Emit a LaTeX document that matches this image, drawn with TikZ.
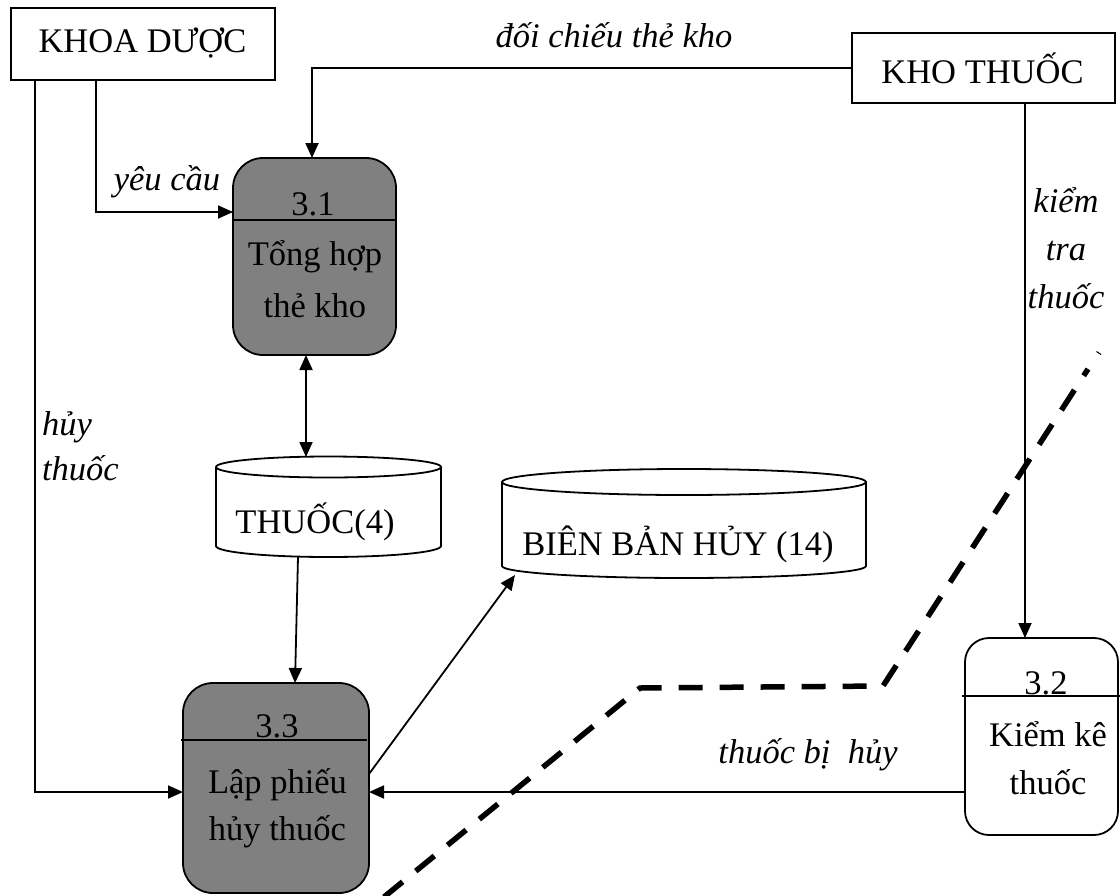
\documentclass[tikz,border=0pt]{standalone}
\usepackage{fontspec}
\setmainfont{Liberation Serif}
\usetikzlibrary{arrows.meta,calc}
\definecolor{procgray}{RGB}{128,128,128}
\begin{document}
\begin{tikzpicture}[x=1pt,y=-1pt,
  every node/.style={inner sep=0pt, outer sep=0pt},
  txt/.style={anchor=base, font=\fontsize{34.5}{48}\selectfont},
  lbl/.style={anchor=base, font=\fontsize{34.5}{48}\selectfont\itshape},
  entity/.style={draw, line width=1.6pt, rectangle},
  proc/.style={draw, line width=1.8pt, rectangle},
  divider/.style={line width=1.8pt},
  store/.style={line width=1.8pt},
  conn/.style={line width=1.8pt, -{Triangle[length=15pt,width=13pt]}},
  bothconn/.style={line width=1.8pt, {Triangle[length=15pt,width=13pt]}-{Triangle[length=15pt,width=13pt]}},
  boundary/.style={line width=5.5pt, dash pattern=on 24pt off 17pt}
]
\useasboundingbox (0,0) rectangle (1120,895);

% external entities
\node[entity, minimum width=264pt, minimum height=72pt] (khoa) at (143,44) {};
\node[txt] (khoaT) at (142.5,52) {KHOA DƯỢC};
\node[entity, minimum width=263pt, minimum height=70pt] (kho) at (983.5,68) {};
\node[txt] (khoT) at (982.5,83) {KHO THUỐC};

% process 3.1 (multi-line texts are anchored at their last baseline)
\node[proc, fill=procgray, rounded corners=30pt, minimum width=163pt, minimum height=197pt] (p31) at (314.5,256.5) {};
\draw[divider] (p31.west |- 0,220) -- (p31.east |- 0,220);
\node[txt] (p31n) at (313,215) {3.1};
\node[txt, align=center, font=\fontsize{34.5}{52}\selectfont] (p31t) at (315,317) {Tổng hợp\\thẻ kho};

% process 3.3
\node[proc, fill=procgray, rounded corners=30pt, minimum width=186pt, minimum height=210pt] (p33) at (276,788) {};
\draw[divider] (181,740) -- (367,740);
\node[txt] (p33n) at (277,737) {3.3};
\node[txt, align=center, font=\fontsize{34.5}{47}\selectfont] (p33t) at (277.5,840) {Lập phiếu\\hủy thuốc};

% process 3.2
\node[proc, fill=white, rounded corners=24pt, minimum width=153pt, minimum height=197pt] (p32) at (1041.5,736.5) {};
\draw[divider] (962,696) -- (1120,696);
\node[txt] (p32n) at (1046,694) {3.2};
\node[txt, align=center, font=\fontsize{34.5}{48}\selectfont] (p32t) at (1048,794) {Kiểm kê\\thuốc};

% data store THUOC(4)
\node[minimum width=225pt, minimum height=100pt] (thuoc) at (328.5,507) {};
\draw[store] (328.5,467) ellipse [x radius=112.5pt, y radius=10.5pt];
\draw[store] (216,467) -- (216,546) .. controls (216,552.1) and (266.4,557) .. (328.5,557)
  .. controls (390.6,557) and (441,552.1) .. (441,546) -- (441,467);
\node[txt] (thuocT) at (315,533) {THUỐC(4)};

% data store BIEN BAN HUY (14)
\node[minimum width=364pt, minimum height=109pt] (bb) at (684,523.5) {};
\draw[store] (684,482) ellipse [x radius=182pt, y radius=13pt];
\draw[store] (502,482) -- (502,566) .. controls (502,572.6) and (583.5,578) .. (684,578)
  .. controls (784.5,578) and (866,572.6) .. (866,566) -- (866,482);
\node[txt] (bbT) at (678,555) {BIÊN BẢN HỦY (14)};

% data flows
\draw[conn] (kho.west) -| ([xshift=-2.5pt]p31.north);
\node[lbl] (fl1) at (614,47) {đối chiếu thẻ kho};

\draw[conn] ([xshift=-47pt]khoa.south) |- ([yshift=44.5pt]p31.west);
\node[lbl] (fl2) at (167,190) {yêu cầu};

\draw[conn] ([xshift=-108pt]khoa.south) |- ([yshift=-4pt]p33.west);
\node[lbl, align=left, anchor=base west, font=\fontsize{34.5}{45}\selectfont\itshape] (fl3) at (42,480) {hủy\\thuốc};

\draw[bothconn] ([xshift=-8.5pt]p31.south) -- ([xshift=-8.5pt]p31.south |- thuoc.north);

\draw[conn] ([xshift=-30.5pt]thuoc.south) -- ([xshift=19pt]p33.north);

\draw[conn] ([yshift=14pt]p33.east) -- ([xshift=13pt,yshift=3pt]bb.south west);

\draw[conn] ([xshift=41.5pt]kho.south) -- ([xshift=41.5pt]kho.south |- p32.north);
\node[lbl, align=center, font=\fontsize{34.5}{48}\selectfont\itshape] (fl4) at (1066,308) {kiểm\\tra\\thuốc};

\draw[conn] ([yshift=-55.5pt]p32.west) -- ([yshift=-55.5pt]p32.west -| p33.east);
\node[lbl] (fl5) at (808,763) {thuốc bị\hspace{0.5em}hủy};

% system boundary
\draw[boundary] (384,897) -- (640,688) -- (883,686) -- (1088,369);
\draw[line width=1pt] (1096.5,351.5) -- (1101,354.5);
\end{tikzpicture}
\end{document}
